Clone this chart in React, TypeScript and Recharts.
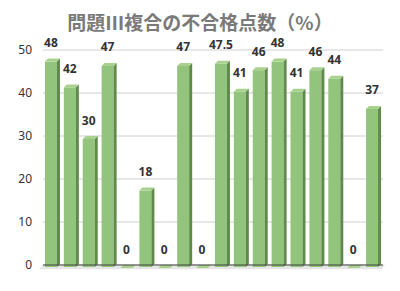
import { BarChart, Bar, CartesianGrid, XAxis, YAxis, LabelList, ReferenceLine, ReferenceArea } from "recharts";

const questions = ["1", "2", "3", "4", "5", "6", "7", "8", "9", "10", "11", "12", "13", "14", "15", "16", "17", "18"];
const failRates = [48, 42, 30, 47, 0, 18, 0, 47, 0, 47.5, 41, 46, 48, 41, 46, 44, 0, 37];
const yTicks = [0, 10, 20, 30, 40, 50];

const data = questions.map((q, i) => ({ q, rate: failRates[i] }));

const DEPTH = 3;

function Bar3D(props: any) {
  const { x, y, width, height } = props;
  if (x == null || y == null) return null;
  const fw = width - DEPTH;
  const top = y + DEPTH;
  const bottom = y + height + 2;
  return (
    <g>
      {height > 0 && (
        <>
          <rect x={x} y={top} width={fw} height={Math.max(bottom - top, 0)} fill="#93c47d" />
          <polygon
            points={`${x + fw},${top} ${x + width},${y} ${x + width},${bottom - DEPTH} ${x + fw},${bottom}`}
            fill="#5e8a4a"
          />
        </>
      )}
      <polygon
        points={`${x},${top} ${x + DEPTH},${y} ${x + width},${y} ${x + fw},${top}`}
        fill="#a9d18e"
      />
    </g>
  );
}

function Floor(props: any) {
  const { x, y, width, height } = props;
  if (x == null) return null;
  return (
    <polygon
      points={`${x},${y} ${x + width + 2},${y} ${x + width - 1},${y + height} ${x - 4},${y + height}`}
      fill="#e6e6e6"
    />
  );
}

function ValueLabel(props: any) {
  const { x, y, width, value } = props;
  return (
    <text
      x={x + (width - DEPTH) / 2}
      y={y - 11.5}
      textAnchor="middle"
      fontSize={12}
      fontWeight={700}
      fill="#333"
      fontFamily="'Noto Sans', sans-serif"
    >
      {value}
    </text>
  );
}

export default function App() {
  return (
    <div style={{ position: "fixed", left: 0, top: 0, width: 400, height: 291, background: "#fff" }}>
      <div
        style={{
          position: "absolute",
          left: 0,
          top: 12,
          width: 400,
          height: 19,
          lineHeight: "19px",
          textAlign: "center",
          fontFamily: "'Noto Sans CJK JP', sans-serif",
          fontWeight: 700,
          fontSize: 19,
          color: "#7a7a7a",
          whiteSpace: "nowrap",
        }}
      >
        問題Ⅲ複合の不合格点数（%）
      </div>
      <BarChart
        width={400}
        height={291}
        data={data}
        margin={{ top: 50, right: 17, bottom: 26, left: 0 }}
        barCategoryGap="10.3%"
      >
        <CartesianGrid vertical={false} stroke="#d0d0d0" />
        <XAxis dataKey="q" hide />
        <YAxis
          width={43}
          domain={[0, 50]}
          ticks={yTicks}
          axisLine={false}
          tickLine={false}
          tickSize={0}
          tickMargin={11}
          tick={{ fontSize: 12, fill: "#333", fontFamily: "'Noto Sans', sans-serif" }}
        />
        <ReferenceArea y1={0} y2={-1} ifOverflow="visible" shape={<Floor />} />
        <ReferenceLine y={0} stroke="#404040" strokeWidth={1} />
        <Bar dataKey="rate" shape={<Bar3D />} isAnimationActive={false}>
          <LabelList dataKey="rate" content={<ValueLabel />} />
        </Bar>
      </BarChart>
    </div>
  );
}
